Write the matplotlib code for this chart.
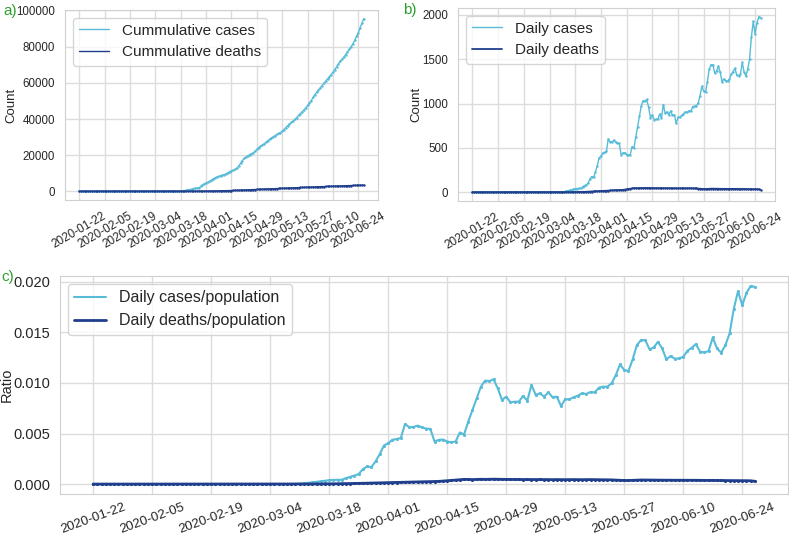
import matplotlib
matplotlib.use("Agg")
import matplotlib.pyplot as plt
from matplotlib.lines import Line2D
import pandas as pd
import seaborn as sns

sns.set_style("whitegrid")
plt.rcParams["font.family"] = ["Liberation Sans", "DejaVu Sans"]

# ---------------- data ----------------
start_date = "2020-01-22"
tick_labels = ["2020-01-22", "2020-02-05", "2020-02-19", "2020-03-04", "2020-03-18",
               "2020-04-01", "2020-04-15", "2020-04-29", "2020-05-13", "2020-05-27",
               "2020-06-10", "2020-06-24"]

daily_cases = [0] * 48 + [
    2, 4, 7, 12, 17, 22, 27, 33, 40, 42, 43, 43,
    60, 72, 85, 100, 149, 176, 169, 226, 299, 385,
    408, 442, 450, 460, 600, 568, 570, 584, 566, 554,
    551, 425, 442, 445, 425, 418, 425, 515, 495, 624,
    740, 857, 973, 1033, 1029, 1046, 956, 840, 873, 817,
    823, 823, 880, 833, 989, 890, 906, 873, 916, 867,
    873, 780, 847, 847, 867, 883, 906, 900, 920, 916,
    963, 973, 973, 1006, 1089, 1195, 1139, 1129, 1245, 1388,
    1438, 1438, 1345, 1365, 1421, 1355, 1245, 1278, 1252, 1255,
    1272, 1331, 1361, 1398, 1321, 1315, 1328, 1464, 1355, 1311,
    1388, 1504, 1753, 1926, 1786, 1909, 1979, 1969]

daily_deaths = [0] * 50 + [
    1, 1, 1, 2, 2, 2, 3, 3, 4, 4,
    5, 5, 6, 7, 8, 8, 9, 10, 11, 12,
    13, 14, 15, 17, 18, 20, 21, 22, 22, 23,
    24, 25, 27, 30, 34, 37, 40, 44, 47, 46,
    45, 47, 48, 47, 48, 49, 48, 47, 47, 46,
    46, 46, 45, 46, 45, 45, 46, 45, 45, 44,
    45, 44, 44, 45, 45, 44, 44, 45, 45, 44,
    44, 43, 43, 42, 40, 37, 36, 36, 38, 40,
    41, 41, 40, 40, 39, 39, 39, 38, 38, 38,
    39, 38, 38, 38, 37, 37, 37, 36, 36, 36,
    35, 35, 35, 35, 34, 34, 33, 28]

cum_cases = [0] * 56 + [
    100, 200, 350, 550,
    750, 950, 1200, 1500, 1700, 1800, 1900, 2700, 3500, 4200,
    4600, 5000, 5600, 6300, 6900, 7500, 8000, 8300, 8600, 9000,
    9300, 9700, 10300, 10900, 11300, 11700, 12200, 12900, 14000, 15500,
    17000, 18200, 19000, 19600, 20300, 20800, 21300, 22200, 23200, 24200,
    24900, 25700, 26300, 27100, 28000, 28800, 29500, 30100, 30800, 31500,
    32000, 32500, 33300, 34200, 35300, 36300, 37200, 38100, 38900, 39800,
    40800, 42000, 43000, 44000, 45000, 46200, 47500, 48800, 50200, 51900,
    53500, 54800, 56000, 57300, 58500, 59700, 61000, 62200, 63400, 64600,
    65800, 67300, 68800, 70400, 72000, 73100, 74200, 75600, 77000, 78500,
    80000, 81500, 83500, 85800, 87800, 90500, 93000, 95500]

cum_deaths = [0] * 56 + [
    10, 15, 20, 25,
    30, 40, 45, 55, 65, 75, 85, 95, 105, 120,
    135, 150, 165, 180, 200, 220, 240, 260, 285, 310,
    335, 360, 385, 415, 445, 480, 520, 560, 605, 650,
    695, 740, 790, 835, 880, 930, 975, 1020, 1065, 1110,
    1160, 1205, 1250, 1295, 1340, 1385, 1430, 1475, 1520, 1565,
    1610, 1655, 1700, 1745, 1790, 1835, 1880, 1925, 1970, 2015,
    2060, 2105, 2150, 2190, 2230, 2268, 2305, 2342, 2380, 2420,
    2460, 2500, 2540, 2580, 2620, 2660, 2698, 2736, 2774, 2812,
    2850, 2888, 2926, 2964, 3000, 3037, 3074, 3110, 3146, 3182,
    3217, 3252, 3287, 3322, 3356, 3390, 3423, 3450]

population = 101000

# ---------------- styling ----------------
c_cases = "#58bcd8"
c_deaths = "#1f3e8c"
c_label = "#2ca02c"
c_text = "#262626"

W, H = 789, 537
fig = plt.figure(figsize=(W / 100, H / 100), dpi=100)


def rect(x0, y0, x1, y1):
    return [x0 / W, 1 - y1 / H, (x1 - x0) / W, (y1 - y0) / H]


dates = pd.date_range(start_date, periods=len(daily_cases), freq="D")
ticks = pd.to_datetime(tick_labels)
ratio_cases = [v / population for v in daily_cases]
ratio_deaths = [v / population for v in daily_deaths]


def style(ax, xt_fs, yt_fs, rot, ylabel, ylab_fs, lab_x, pad):
    ax.set_xticks(ticks)
    ax.set_xticklabels(tick_labels, rotation=rot, ha="center", fontsize=xt_fs,
                       color=c_text)
    ax.tick_params(axis="x", pad=pad)
    ax.tick_params(axis="y", labelsize=yt_fs, colors=c_text)
    ax.set_ylabel(ylabel, fontsize=ylab_fs, color=c_text)
    ax.yaxis.set_label_coords(lab_x, 0.5)
    for s in ax.spines.values():
        s.set_color("#d0d0d0")
    ax.grid(color="#dcdcdc", linewidth=1)


def legend(ax, labels, lws, fs):
    handles = [Line2D([], [], color=c, lw=lw) for c, lw in zip([c_cases, c_deaths], lws)]
    ax.legend(handles, labels, loc="upper left", fontsize=fs, frameon=True)


ax_a = fig.add_axes(rect(65, 10, 378, 200))
ax_a.plot(dates, cum_cases, color=c_cases, lw=1.0, marker=".", ms=1.5)
ax_a.plot(dates, cum_deaths, color=c_deaths, lw=1.0, marker=".", ms=1.5)
style(ax_a, 8.5, 8.3, 30, "Count", 9.5, (17 - 65) / 313, 3.5)
legend(ax_a, ["Cummulative cases", "Cummulative deaths"], [1.0, 1.0], 11)

ax_b = fig.add_axes(rect(458, 8, 775, 201))
ax_b.plot(dates, daily_cases, color=c_cases, lw=1.0, marker=".", ms=1.5)
ax_b.plot(dates, daily_deaths, color=c_deaths, lw=1.2, marker=".", ms=1.5)
style(ax_b, 8.5, 8.3, 30, "Count", 9.5, (422 - 458) / 317, 3.5)
legend(ax_b, ["Daily cases", "Daily deaths"], [1.0, 1.3], 11)

ax_c = fig.add_axes(rect(60, 276, 788, 494))
ax_c.plot(dates, ratio_cases, color=c_cases, lw=1.5, marker=".", ms=2.5)
ax_c.plot(dates, ratio_deaths, color=c_deaths, lw=2.0, marker=".", ms=2.5)
style(ax_c, 9.5, 10.5, 20, "Ratio", 10.5, (14 - 60) / 728, 1.5)
legend(ax_c, ["Daily cases/population", "Daily deaths/population"], [1.5, 2.0], 11.5)

fig.text(3 / W, 1 - 11 / H, "a)", color=c_label, fontsize=11, va="center", ha="left")
fig.text(403 / W, 1 - 10 / H, "b)", color=c_label, fontsize=11, va="center", ha="left")
fig.text(1 / W, 1 - 277 / H, "c)", color=c_label, fontsize=11, va="center", ha="left")

fig.savefig("out.png", dpi=100)
